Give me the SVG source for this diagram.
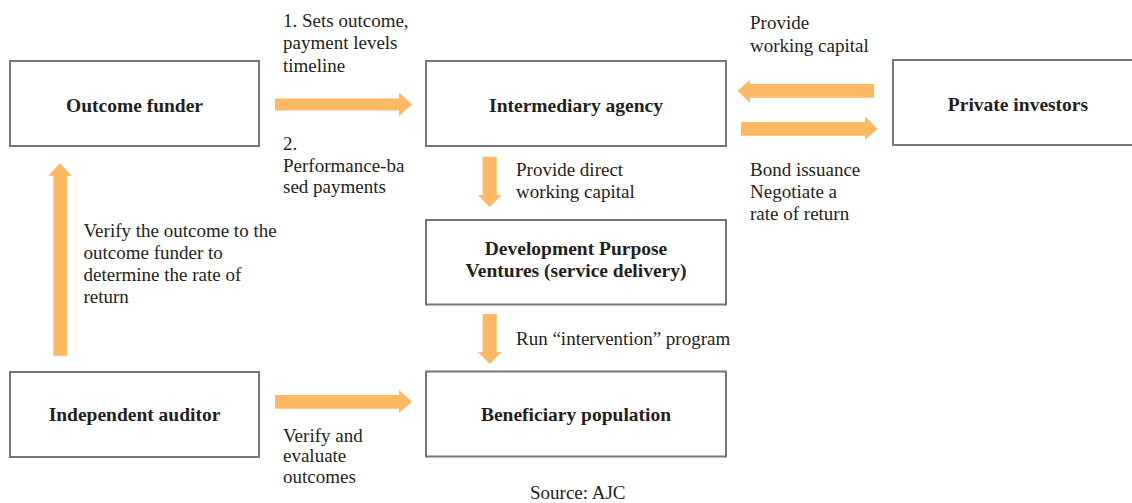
<svg xmlns="http://www.w3.org/2000/svg" width="1132" height="503" viewBox="0 0 1132 503">
<style>
.box{fill:#fff;stroke:#767676;stroke-width:2}
.arr{fill:#FDB863}
.t{font-family:"Liberation Serif","Times New Roman",serif;font-size:19px;fill:#231F20}
.b{font-family:"Liberation Serif","Times New Roman",serif;font-size:19.5px;font-weight:bold;fill:#231F20;text-anchor:middle}
</style>
<rect width="1132" height="503" fill="#fff"/>
<g id="connectors">
<polygon class="arr" points="275,98.5 399,98.5 399,92.5 412,104.5 399,116 399,110.5 275,110.5"/>
<polygon class="arr" points="741,122 865,122 865,116.5 877.5,129 865,140 865,135.7 741,135.7"/>
<polygon class="arr" points="874,84 750,84 750,80 737.5,91 750,102.7 750,97.7 874,97.7"/>
<polygon class="arr" points="482.7,156.7 496.7,156.7 496.7,195 501.7,195 489.7,207 478,195 482.7,195"/>
<polygon class="arr" points="482.7,314 496.7,314 496.7,352 501.7,352 489.7,364 478,352 482.7,352"/>
<polygon class="arr" points="53.3,355.7 67,355.7 67,175.7 71.7,175.7 60,163.3 48.3,175.7 53.3,175.7"/>
<polygon class="arr" points="275,395 399,395 399,390 412,401.8 399,413 399,408.7 275,408.7"/>
</g>
<g id="outcome-funder">
<rect class="box" x="10" y="61" width="249" height="85"/>
<text class="b" x="134.5" y="112">Outcome funder</text>
</g>
<g id="intermediary-agency">
<rect class="box" x="426" y="61" width="300" height="85"/>
<text class="b" x="576" y="112">Intermediary agency</text>
</g>
<g id="private-investors">
<rect class="box" x="893" y="60" width="260" height="85"/>
<text class="b" x="1018" y="111">Private investors</text>
</g>
<g id="development-purpose-ventures">
<rect class="box" x="426" y="220" width="300" height="84.5"/>
<text class="b" x="576" y="255">Development Purpose</text>
<text class="b" x="576" y="277">Ventures (service delivery)</text>
</g>
<g id="independent-auditor">
<rect class="box" x="10" y="372" width="249" height="85"/>
<text class="b" x="134.5" y="421">Independent auditor</text>
</g>
<g id="beneficiary-population">
<rect class="box" x="426" y="371.5" width="300" height="85"/>
<text class="b" x="576" y="421">Beneficiary population</text>
</g>
<g id="labels">
<text class="t" x="283" y="27">1. Sets outcome,</text>
<text class="t" x="283" y="49.3">payment levels</text>
<text class="t" x="283" y="71.5">timeline</text>
<text class="t" x="283" y="150">2.</text>
<text class="t" x="283" y="171.7">Performance-ba</text>
<text class="t" x="283" y="193.3">sed payments</text>
<text class="t" x="516" y="175.7">Provide direct</text>
<text class="t" x="516" y="197.7">working capital</text>
<text class="t" x="750" y="29.3">Provide</text>
<text class="t" x="750" y="51.5">working capital</text>
<text class="t" x="750" y="175.7">Bond issuance</text>
<text class="t" x="750" y="197.5">Negotiate a</text>
<text class="t" x="750" y="219.5">rate of return</text>
<text class="t" x="83.5" y="236.7">Verify the outcome to the</text>
<text class="t" x="83.5" y="258.5">outcome funder to</text>
<text class="t" x="83.5" y="280.7">determine the rate of</text>
<text class="t" x="83.5" y="303">return</text>
<text class="t" x="516" y="345">Run “intervention” program</text>
<text class="t" x="283" y="441.7">Verify and</text>
<text class="t" x="283" y="462.3">evaluate</text>
<text class="t" x="283" y="482.5">outcomes</text>
<text class="t" x="530" y="499">Source: AJC</text>
</g>
</svg>
